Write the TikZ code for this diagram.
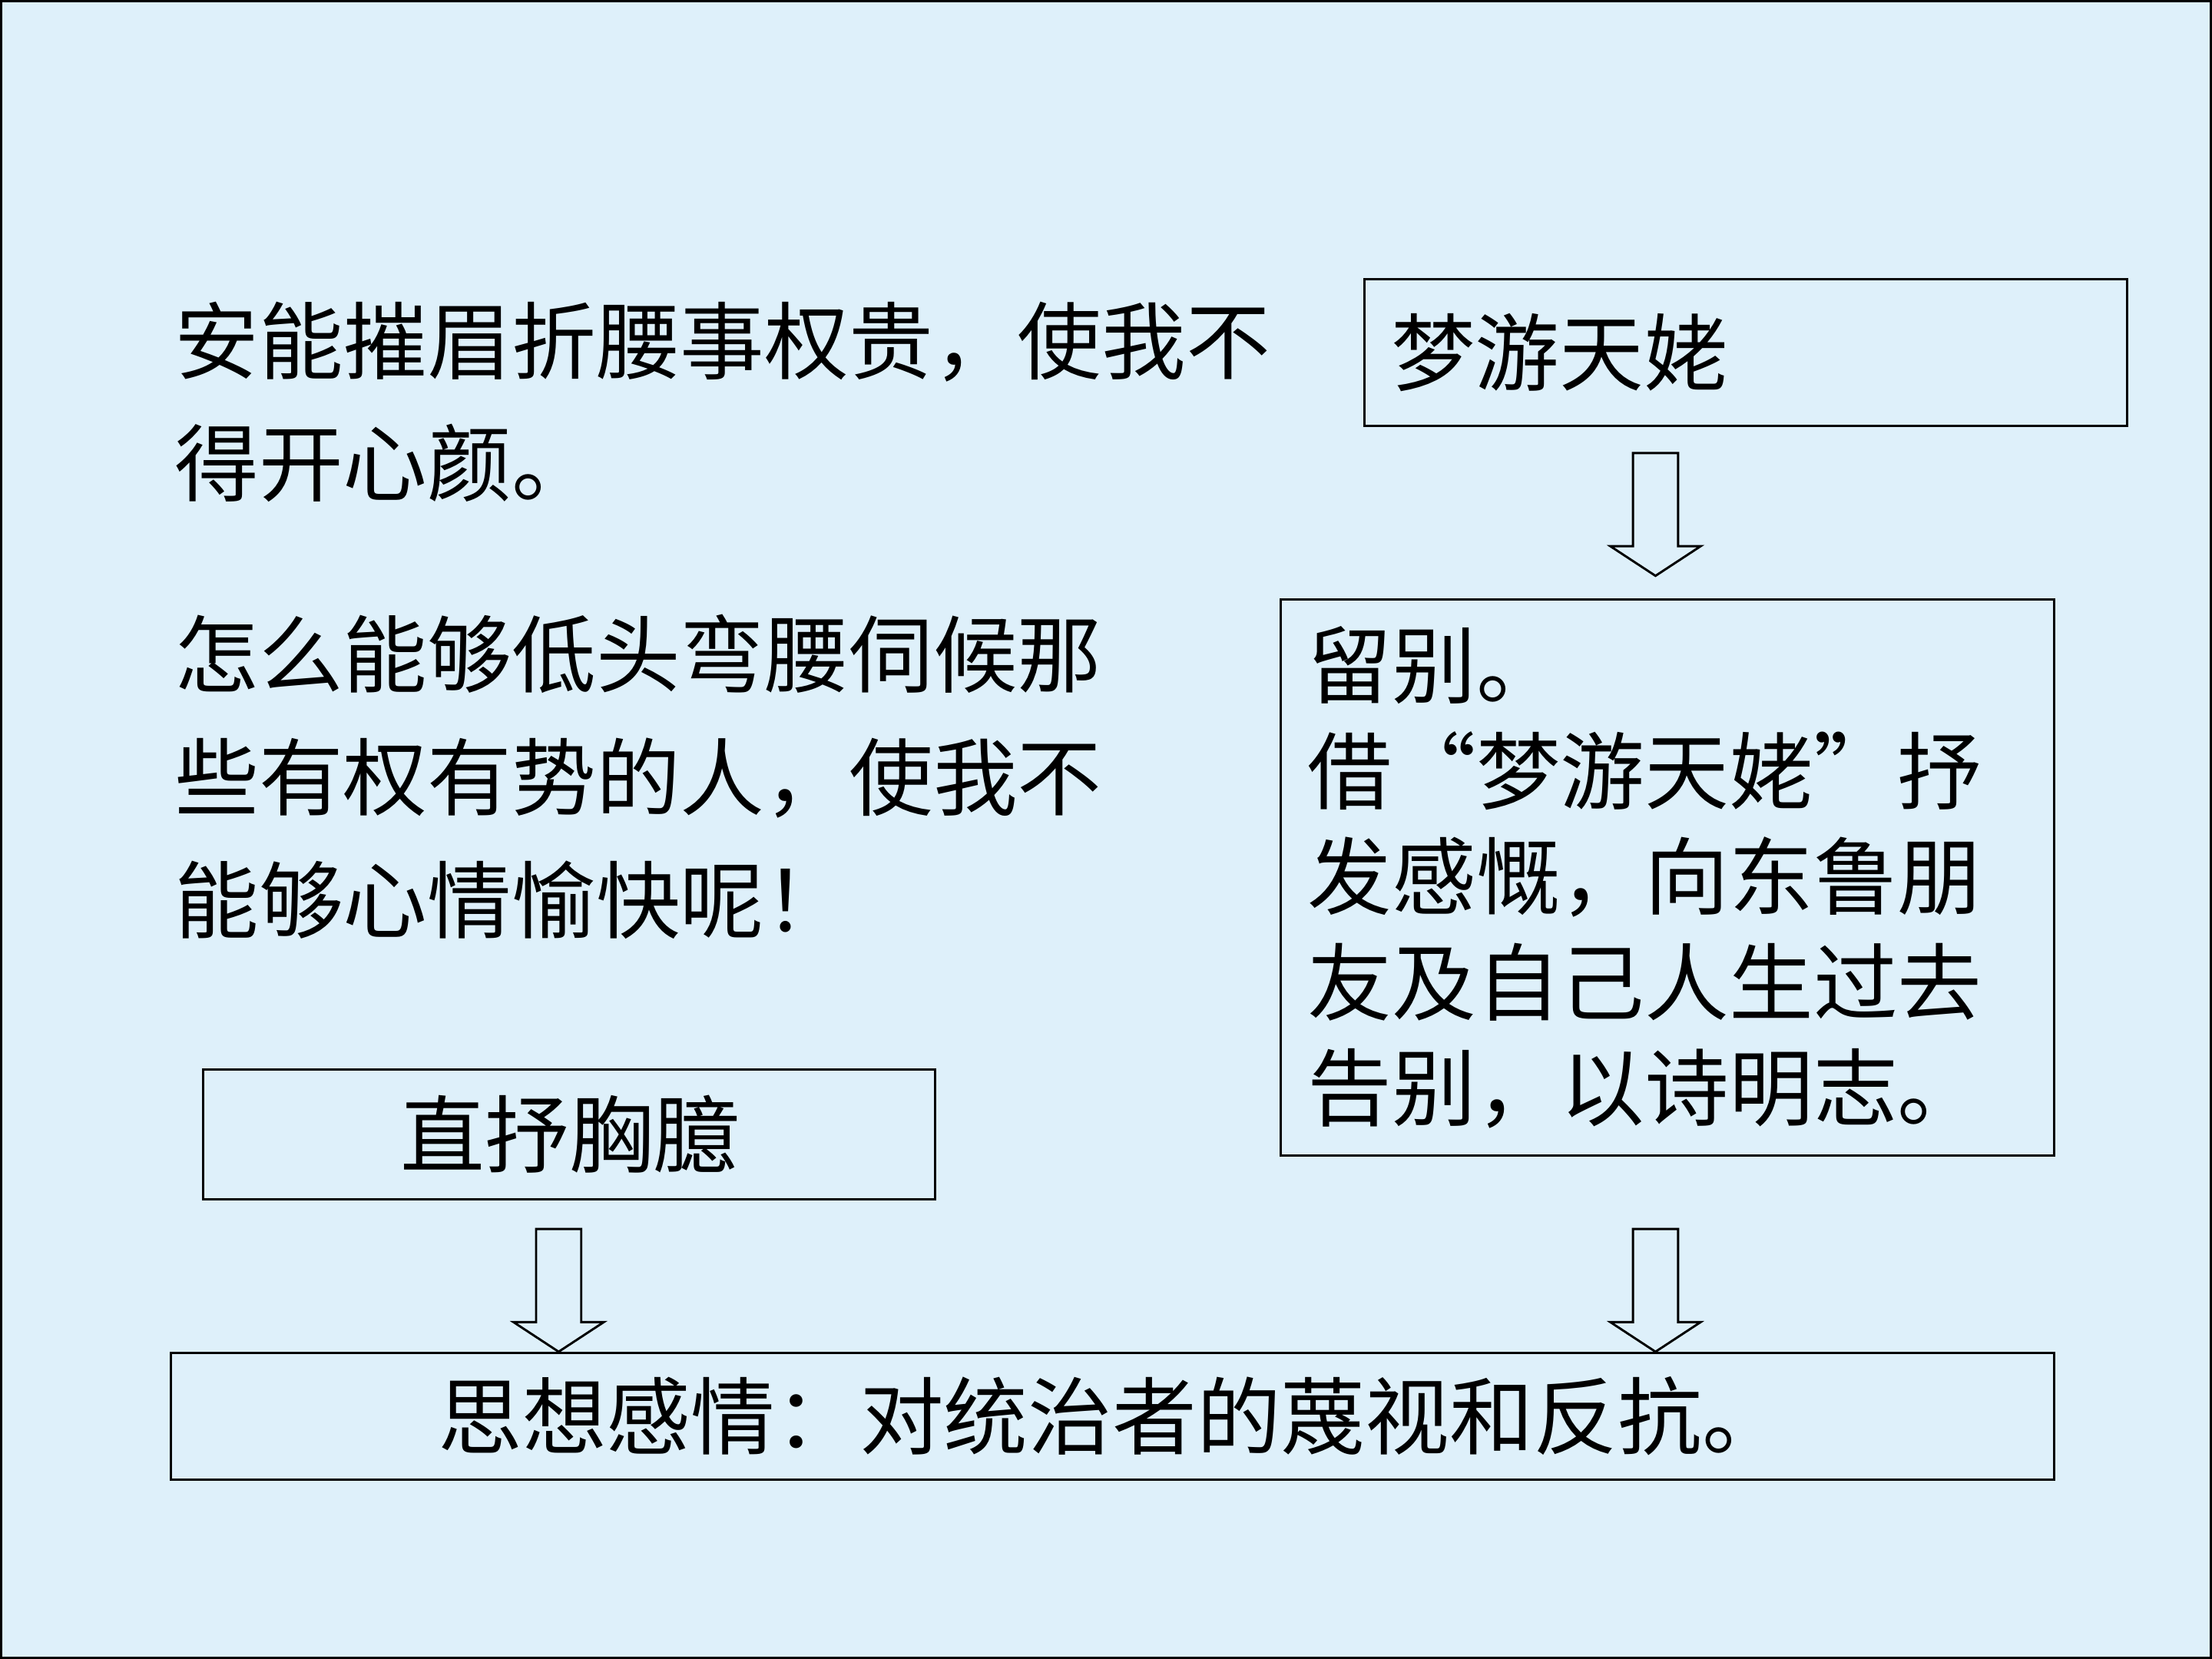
\documentclass[tikz,border=0pt]{standalone}
\usepackage{fontspec}
\newfontfamily\cjk{Noto Sans CJK SC}
\definecolor{bgblue}{RGB}{222,240,250}
\begin{document}
\begin{tikzpicture}[line join=miter, line width=0.45pt,
		txt/.style={font=\cjk\fontsize{17}{24.75}\selectfont, align=left, inner sep=0pt, anchor=north west},
		box/.style={draw, font=\cjk\fontsize{17}{21.3}\selectfont, inner xsep=0.19cm, inner ysep=0pt},
		pics/downarrow/.style={code={\draw[fill=bgblue] (0,0) -- (0.32,0.21) -- (0.16,0.21) -- (0.16,0.87) -- (-0.16,0.87) -- (-0.16,0.21) -- (-0.32,0.21) -- cycle;}}]
		\useasboundingbox (0,0) rectangle (15.68,11.76);
		\draw[fill=bgblue, line width=0.8pt] (0,0) rectangle (15.68,11.76);
		% left column
		\node[txt] (poem) at (1.23,9.63) {安能摧眉折腰事权贵，使我不\\得开心颜。};
		\node[txt] (meaning) at (1.23,7.41) {怎么能够低头弯腰伺候那\\些有权有势的人，使我不\\能够心情愉快呢！};
		\node[box, align=center, minimum width=5.19cm, minimum height=0.92cm] (direct) at (4.035,3.72) {直抒胸臆};
		% right column
		\node[box, align=left, text width=5.03cm, minimum height=1.04cm] (dream) at (12.375,9.26) {梦游天姥};
		\node[box, align=left, text width=5.10cm, minimum height=3.94cm] (farewell) at (11.82,5.54) {留别。\\借“梦游天姥”抒\\发感慨，向东鲁朋\\友及自己人生过去\\告别，以诗明志。};
		% bottom
		\node[box, align=center, minimum width=13.35cm, minimum height=0.90cm] (result) at (7.885,1.72) {思想感情：对统治者的蔑视和反抗。};
		\pic at ([xshift=-0.085cm,yshift=0.16cm]farewell.north) {downarrow};
		\pic at ([xshift=-0.075cm]direct.south |- result.north) {downarrow};
		\pic at ([xshift=-0.085cm]farewell.south |- result.north) {downarrow};
\end{tikzpicture}
\end{document}
